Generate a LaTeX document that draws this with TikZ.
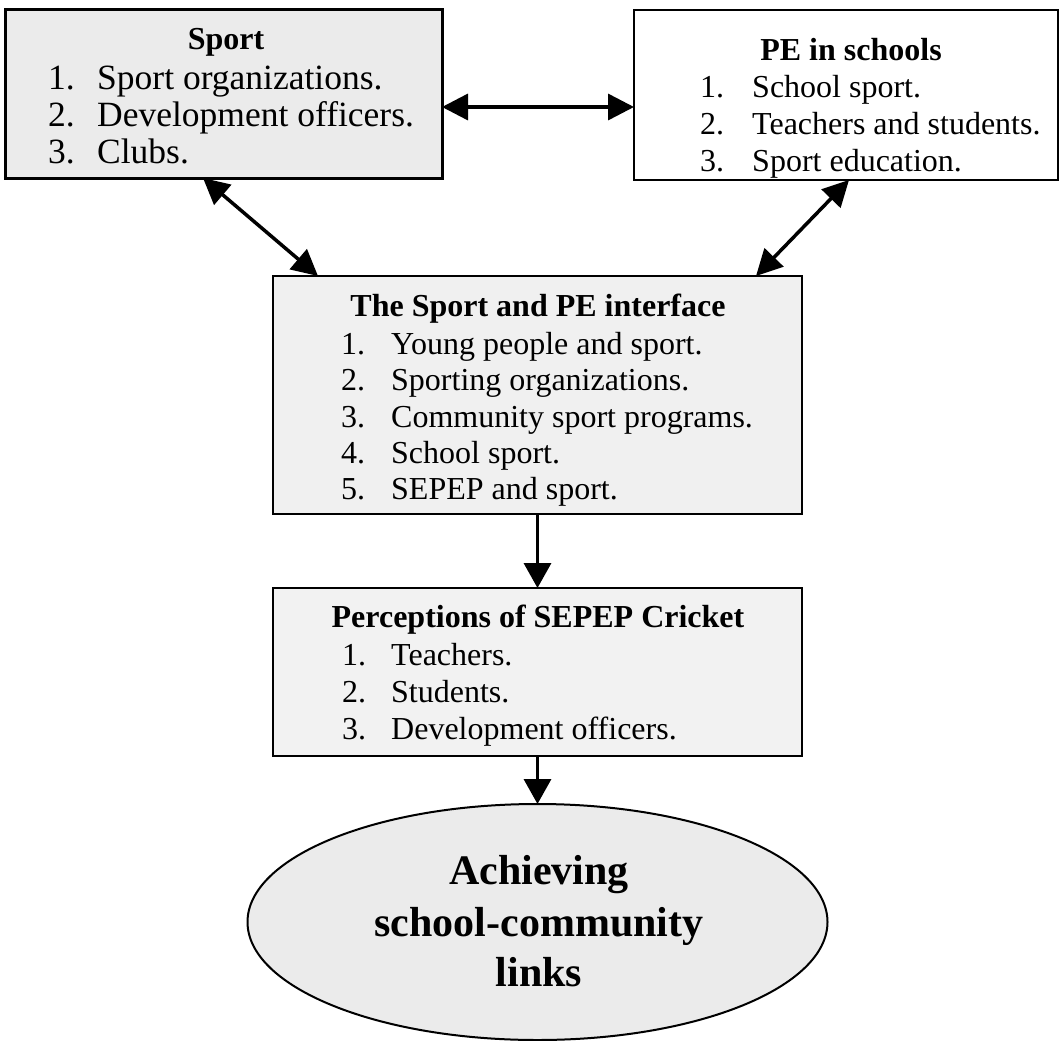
\documentclass[tikz,border=0pt]{standalone}
\usepackage{fontspec}
\setmainfont{Liberation Serif}
\usetikzlibrary{arrows.meta,shapes.geometric}
\begin{document}
\begin{tikzpicture}[x=1pt,y=-1pt,
  box/.style={draw=black, line width=2pt, rectangle, inner sep=0pt, outer sep=0pt, anchor=north west},
  ttl/.style={anchor=base, inner sep=0pt, font=\fontsize{32}{37}\selectfont\bfseries},
  itm/.style={anchor=base west, inner sep=0pt, font=\fontsize{32}{37}\selectfont},
  itmbig/.style={anchor=base west, inner sep=0pt, font=\fontsize{35.5}{37}\selectfont},
  goaltxt/.style={anchor=base, inner sep=0pt, font=\fontsize{42}{51}\selectfont\bfseries},
  conn/.style={line width=3.5pt, {Triangle[length=26pt,width=26pt]}-{Triangle[length=26pt,width=26pt]}},
  conn1/.style={line width=3.5pt, -{Triangle[length=25pt,width=27pt]}},
]
\useasboundingbox (0,0) rectangle (1060,1041);

% boxes
\node[box, fill=black!8, line width=3pt, minimum width=437pt, minimum height=168pt] (sport) at (5,10) {};
\node[box, fill=white, minimum width=424pt, minimum height=170pt] (pe) at (634,10) {};
\node[box, fill=black!6, minimum width=529pt, minimum height=238pt] (iface) at (273,276) {};
\node[box, fill=black!5, minimum width=529pt, minimum height=168pt] (percep) at (273,588) {};
\node[ellipse, draw=black, line width=2pt, fill=black!8, minimum width=580pt, minimum height=236pt, inner sep=0pt, outer sep=0pt] (goal) at (537.5,922) {};

% Sport
\node[ttl] (sportT) at (226,50) {Sport};
\node[itmbig] (s1n) at (48,89) {1.};
\node[itmbig] (s1) at (97,89) {Sport organizations.};
\node[itmbig] (s2n) at (48,126) {2.};
\node[itmbig] (s2) at (97,126) {Development officers.};
\node[itmbig] (s3n) at (48,163) {3.};
\node[itmbig] (s3) at (97,163) {Clubs.};

% PE in schools
\node[ttl] (peT) at (851,61) {PE in schools};
\node[itm] (p1n) at (700,97) {1.};
\node[itm] (p1) at (752,97) {School sport.};
\node[itm] (p2n) at (700,134) {2.};
\node[itm] (p2) at (752,134) {Teachers and students.};
\node[itm] (p3n) at (700,171) {3.};
\node[itm] (p3) at (752,171) {Sport education.};

% Interface
\node[ttl] (ifT) at (538,316) {The Sport and PE interface};
\node[itm] (i1n) at (341,354) {1.};
\node[itm] (i1) at (391,354) {Young people and sport.};
\node[itm] (i2n) at (341,390) {2.};
\node[itm] (i2) at (391,390) {Sporting organizations.};
\node[itm] (i3n) at (341,427) {3.};
\node[itm] (i3) at (391,427) {Community sport programs.};
\node[itm] (i4n) at (341,463) {4.};
\node[itm] (i4) at (391,463) {School sport.};
\node[itm] (i5n) at (341,499) {5.};
\node[itm] (i5) at (391,499) {SEPEP and sport.};

% Perceptions
\node[ttl] (peT2) at (538,627) {Perceptions of SEPEP Cricket};
\node[itm] (c1n) at (342,665) {1.};
\node[itm] (c1) at (391,665) {Teachers.};
\node[itm] (c2n) at (342,702) {2.};
\node[itm] (c2) at (391,702) {Students.};
\node[itm] (c3n) at (342,739) {3.};
\node[itm] (c3) at (391,739) {Development officers.};

% Goal
\node[goaltxt] (g1) at (539,884) {Achieving};
\node[goaltxt] (g2) at (539,936) {school-community};
\node[goaltxt] (g3) at (539,986) {links};

% connectors
\coordinate (h1) at ([yshift=-13pt]sport.east);
\draw[conn] (h1) -- (h1 -| pe.west);
\draw[conn] ([xshift=198pt]sport.south west) -- ([xshift=45pt]iface.north west);
\draw[conn] ([xshift=215pt]pe.south west) -- ([xshift=-46pt]iface.north east);
\draw[conn1] (iface.south) -- (percep.north);
\draw[conn1] (percep.south) -- (goal.north);
\end{tikzpicture}
\end{document}
